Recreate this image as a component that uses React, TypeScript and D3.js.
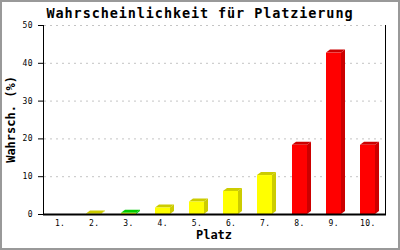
import React from "react";
import * as d3 from "d3";

const categories = ["1.", "2.", "3.", "4.", "5.", "6.", "7.", "8.", "9.", "10."];
const values = [0, 0.1, 0.3, 1.7, 3.3, 6.1, 10.3, 18.3, 42.7, 18.3];
const groups = ["y", "y", "g", "y", "y", "y", "y", "r", "r", "r"];
const yTicks = [0, 10, 20, 30, 40, 50];
const title = "Wahrscheinlichkeit für Platzierung";
const xTitle = "Platz";
const yTitle = "Wahrsch. (%)";

const frontColor: Record<string, string> = { y: "#ffff00", g: "#ffff00", r: "#ff0000" };
const darkColor: Record<string, string> = { y: "#cccc00", g: "#00cc00", r: "#cc0000" };

const W = 400, H = 250;
const L = 43, R = 385, T = 25, B = 214;
const DX = 4, DY = 3, BW = 15;
const mono = "'DejaVu Sans Mono', monospace";

export default function App() {
  const x = d3.scaleBand<string>().domain(categories).range([L, R]);
  const y = d3.scaleLinear().domain([0, 50]).range([B, T]);
  const bars = categories.map((c, i) => {
    const v = values[i];
    if (v <= 0) return null;
    const cx = (x(c) as number) + x.bandwidth() / 2;
    const x0 = Math.round(cx - BW / 2 - 0.5);
    const x1 = x0 + BW;
    const yt = y(v);
    const g = groups[i];
    const top = `${x0},${yt} ${x1},${yt} ${x1 + DX},${yt - DY} ${x0 + DX},${yt - DY}`;
    const side = `${x1},${yt} ${x1 + DX},${yt - DY} ${x1 + DX},${B - DY} ${x1},${B}`;
    return (
      <g key={c}>
        <polygon points={side} fill={darkColor[g]} />
        <polygon points={top} fill={darkColor[g]} />
        <rect x={x0} y={yt} width={BW} height={B - yt} fill={frontColor[g]} />
      </g>
    );
  });
  return (
    <svg width={W} height={H} style={{ position: "absolute", left: 0, top: 0 }}>
      <rect x={0} y={0} width={W} height={H} fill="#ffffff" />
      <rect x={1} y={1} width={W - 2} height={H - 2} fill="none" stroke="#999999" strokeWidth={2} />
      <text x={200} y={17.5} textAnchor="middle" fontFamily={mono} fontWeight="bold" fontSize={13.5} letterSpacing={0.9} fill="#000">{title}</text>
      {yTicks.filter((t) => t > 0).map((t) => (
        <line key={"g" + t} x1={L + 1} x2={R} y1={y(t) + 0.5} y2={y(t) + 0.5} stroke="#c4c4c4" strokeDasharray="2,4" />
      ))}
      {bars}
      <line x1={L + 0.5} x2={L + 0.5} y1={T} y2={B + 1} stroke="#000" />
      <line x1={R + 0.5} x2={R + 0.5} y1={T} y2={B + 1} stroke="#000" />
      <line x1={L} x2={R + 1} y1={B + 0.5} y2={B + 0.5} stroke="#000" strokeWidth={2} />
      {yTicks.map((t) => (
        <g key={"t" + t}>
          <line x1={L - 5} x2={L} y1={y(t) + 0.5} y2={y(t) + 0.5} stroke="#000" />
          <text x={33} y={y(t) + 3} textAnchor="end" fontFamily={mono} fontSize={8} letterSpacing={0.4} fill="#000">{t}</text>
        </g>
      ))}
      {categories.map((c) => (
        <text key={"x" + c} x={(x(c) as number) + x.bandwidth() / 2} y={226} textAnchor="middle" fontFamily={mono} fontSize={8} letterSpacing={0.4} fill="#000">{c}</text>
      ))}
      <text x={(L + R) / 2} y={239} textAnchor="middle" fontFamily={mono} fontWeight="bold" fontSize={12} fill="#000">{xTitle}</text>
      <text transform={`translate(14.5,${(T + B) / 2}) rotate(-90)`} textAnchor="middle" fontFamily={mono} fontWeight="bold" fontSize={12} fill="#000">{yTitle}</text>
    </svg>
  );
}
